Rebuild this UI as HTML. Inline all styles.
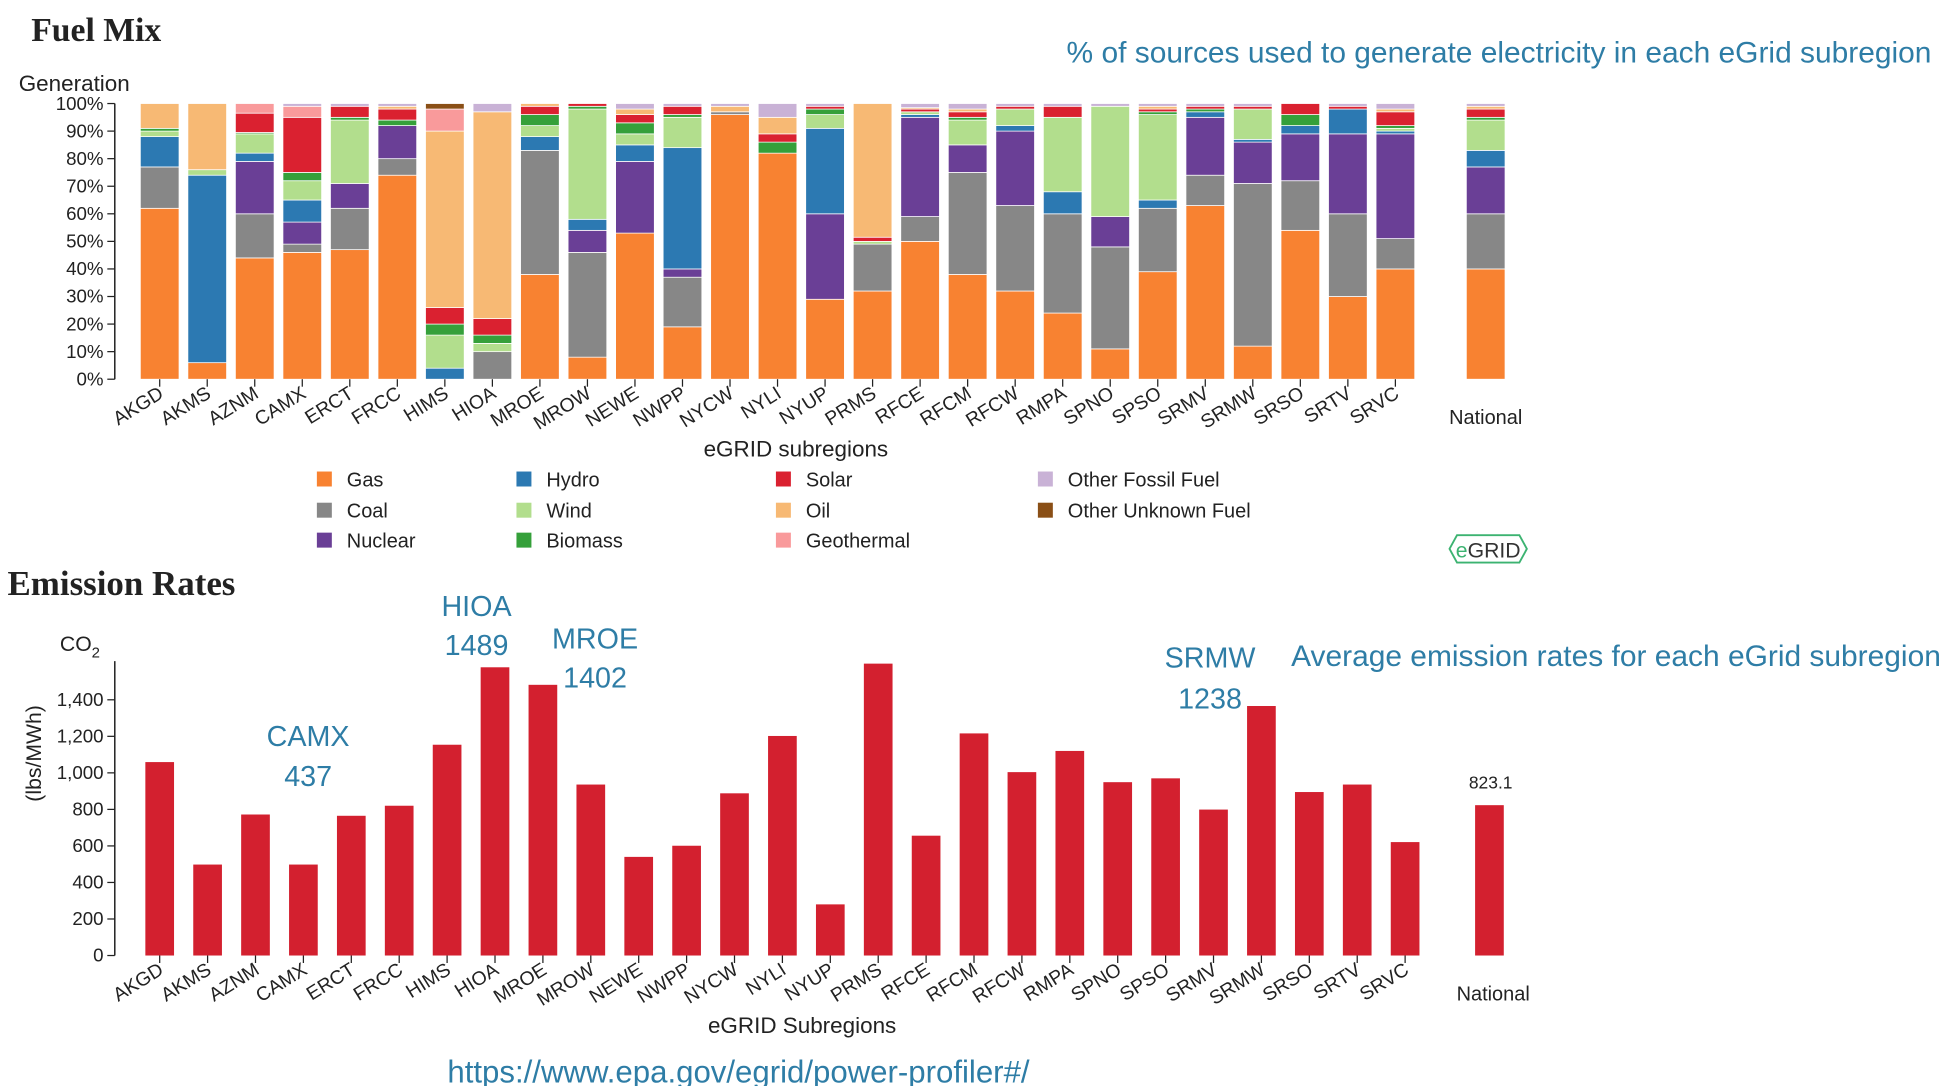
<!DOCTYPE html>
<html><head><meta charset="utf-8"><style>
html,body{margin:0;padding:0;background:#fff;}
svg{display:block;font-family:"Liberation Sans",sans-serif;}
</style></head><body>
<svg id="c" width="1956" height="1086" viewBox="0 0 1568 870.6">
<text x="25" y="33" font-family="Liberation Serif,serif" font-weight="bold" font-size="27" fill="#222">Fuel Mix</text>
<text x="855" y="50" font-size="24" fill="#2e7da6">% of sources used to generate electricity in each eGrid subregion</text>
<text x="15" y="73" font-size="18" fill="#222">Generation</text>
<text x="6" y="477" font-family="Liberation Serif,serif" font-weight="bold" font-size="28" fill="#222">Emission Rates</text>
<text x="1035" y="534" font-size="24" fill="#2e7da6">Average emission rates for each eGrid subregion</text>
<text x="48" y="522" font-size="17" fill="#222">CO<tspan font-size="12" dy="5">2</tspan></text>
<text transform="translate(33,604) rotate(-90)" text-anchor="middle" font-size="17" fill="#222">(lbs/MWh)</text>
<g font-size="23" fill="#2e7da6" text-anchor="middle">
<text x="382" y="494">HIOA</text><text x="382" y="525">1489</text>
<text x="477" y="520">MROE</text><text x="477" y="551">1402</text>
<text x="247" y="598">CAMX</text><text x="247" y="630">437</text>
<text x="970" y="535">SRMW</text><text x="970" y="568">1238</text>
</g>
<text x="592" y="868" text-anchor="middle" font-size="25" fill="#2e7da6">https://www.epa.gov/egrid/power-profiler#/</text>
<g>
<polygon points="1162,440 1168,429 1218,429 1224,440 1218,451 1168,451" fill="#fff" stroke="#3cb371" stroke-width="1.5"/>
<text x="1193" y="447" text-anchor="middle" font-size="17" fill="#333"><tspan fill="#3cb371">e</tspan>GRID</text>
</g>
<text x="1195" y="632" text-anchor="middle" font-size="14" fill="#222">823.1</text>
<g id="topc"></g><g id="botc"></g><g id="legc"></g>
</svg>
<script>
const regions=["AKGD","AKMS","AZNM","CAMX","ERCT","FRCC","HIMS","HIOA","MROE","MROW","NEWE","NWPP","NYCW","NYLI","NYUP","PRMS","RFCE","RFCM","RFCW","RMPA","SPNO","SPSO","SRMV","SRMW","SRSO","SRTV","SRVC","National"];
const fuels=["Gas","Coal","Nuclear","Hydro","Wind","Biomass","Solar","Oil","Geothermal","Other Fossil Fuel","Other Unknown Fuel"];
const fuelColors=["#f88231","#878787","#6a3f96","#2c79b2","#b2de8d","#35a03a","#da2130","#f7b974","#f99a9b","#c9b2d6","#8a4f16"];
const gas=[62,6,44,46,47,74,0,0,38,8,53,19,96,82,29,32,50,38,32,24,11,39,63,12,54,30,40,40];
const coal=[15,0,16,3,15,6,0,10,45,38,0,18,1,0,0,17,9,37,31,36,37,23,11,59,18,30,11,20];
const nuclear=[0,0,19,8,9,12,0,0,0,8,26,3,0,0,31,0,36,10,27,0,11,0,21,15,17,29,38,17];
const hydro=[11,68,3,8,0,0,4,0,5,4,6,44,0,0,31,0,1,0,2,8,0,3,2,1,3,9,1,6];
const wind=[2,2,7,7,23,0,12,3,4,40,4,11,0,0,5,1,1,9,6,27,40,31,0,11,0,0,1,11];
const biomass=[1,0,0.5,3,1,2,4,3,4,1,4,1,0,4,2,0,0,1,0,0,0,1,1,0,4,0,1,1];
const solar=[0,0,7,20,4,4,6,6,3,1,3,3,0,3,1,1.5,1,2,1,4,0,1,1,1,4,1,5,3];
const oil=[9,24,0,0,0,1,64,75,1,0,2,0,2,6,0,48.5,0.5,1,0,0,0,1,0,0,0,0,1,1];
const geothermal=[0,0,3.5,4,0,0,8,0,0,0,0,0,0,0,0,0,0,0,0,0,0,0,0,0,0,0,0,0];
const otherFossil=[0,0,0,1,1,1,0,3,0,0,2,1,1,5,1,0,1.5,2,1,1,1,1,1,1,0,1,2,1];
const otherUnknown=[0,0,0,0,0,0,2,0,0,0,0,0,0,0,0,0,0,0,0,0,0,0,0,0,0,0,0,0];
const emissions=[1059,498,772,498,765,820,1154,1578,1482,936,540,601,888,1202,280,1598,656,1216,1004,1120,949,970,799,1366,895,936,621,823.1];
const pctTicks=[0,10,20,30,40,50,60,70,80,90,100];
const emTicks=[0,200,400,600,800,1000,1200,1400];
const emTickLabels=["0","200","400","600","800","1,000","1,200","1,400"];

const NS="http://www.w3.org/2000/svg";
function mk(p,t,a){const e=document.createElementNS(NS,t);for(const k in a)e.setAttribute(k,a[k]);p.appendChild(e);return e;}
const series=[gas,coal,nuclear,hydro,wind,biomass,solar,oil,geothermal,otherFossil,otherUnknown];
function xTop(i){return i<27?128+i*38.1:1191;}
function yTop(v){return 304-v*2.21;}
function xBot(i){return i<27?128+i*38.4:1194;}
function yBot(v){return 766-v*0.14643;}
const gTop=document.getElementById('topc');
const gBot=document.getElementById('botc');
const gLeg=document.getElementById('legc');
regions.forEach((r,i)=>{
  let acc=0;
  series.forEach((s,k)=>{
    const v=s[i]; if(!v) return;
    const rc=mk(gTop,'rect',{x:xTop(i)-15.5,y:yTop(acc+v),width:31,height:yTop(acc)-yTop(acc+v),fill:fuelColors[k],stroke:'#fff','stroke-width':0.6});
    
    
    acc+=v;
  });
  const rest=100-acc;
  if(rest>0.2){const rc=mk(gTop,'rect',{x:xTop(i)-15.5,y:yTop(100),width:31,height:yTop(acc)-yTop(100),fill:fuelColors[7]});
    
    }
  if(i<27){mk(gTop,'line',{x1:xTop(i),x2:xTop(i),y1:304,y2:310,stroke:'#222'});
    const t=mk(gTop,'text',{transform:`translate(${xTop(i)+4},${318}) rotate(-32)`,'text-anchor':'end','font-size':15.5,fill:'#222'});t.textContent=r;
    
    
  } else {const t=mk(gTop,'text',{x:1191,y:340,'text-anchor':'middle','font-size':16,fill:'#222'});t.textContent=r;
    
    }
  const b=mk(gBot,'rect',{x:xBot(i)-11.5,y:yBot(emissions[i]),width:23,height:766-yBot(emissions[i]),fill:'#d3202f'});
  
  
  if(i<27){mk(gBot,'line',{x1:xBot(i),x2:xBot(i),y1:766,y2:772,stroke:'#222'});
    const t=mk(gBot,'text',{transform:`translate(${xBot(i)+4},${780}) rotate(-32)`,'text-anchor':'end','font-size':15.5,fill:'#222'});t.textContent=r;
    
    
  } else {const t=mk(gBot,'text',{x:1197,y:802,'text-anchor':'middle','font-size':16,fill:'#222'});t.textContent=r;
    
    }
});
const ax1=mk(gTop,'line',{x1:92,x2:92,y1:83,y2:304,stroke:'#222','stroke-width':1.2});


pctTicks.forEach(v=>{mk(gTop,'line',{x1:86,x2:92,y1:yTop(v),y2:yTop(v),stroke:'#222'});
  const t=mk(gTop,'text',{x:83,y:yTop(v)+5,'text-anchor':'end','font-size':15,fill:'#222'});t.textContent=v+'%';
  
  });
const t1=mk(gTop,'text',{x:638,y:366,'text-anchor':'middle','font-size':18,fill:'#222'});t1.textContent='eGRID subregions';


const ax2=mk(gBot,'line',{x1:92,x2:92,y1:530,y2:766,stroke:'#222','stroke-width':1.2});


emTicks.forEach((v,k)=>{mk(gBot,'line',{x1:86,x2:92,y1:yBot(v),y2:yBot(v),stroke:'#222'});
  const t=mk(gBot,'text',{x:83,y:yBot(v)+5,'text-anchor':'end','font-size':15,fill:'#222'});t.textContent=emTickLabels[k];
  
  });
const t2=mk(gBot,'text',{x:643,y:828,'text-anchor':'middle','font-size':18,fill:'#222'});t2.textContent='eGRID Subregions';


const legOrder=[[0,1,2],[3,4,5],[6,7,8],[9,10]];
const colX=[254,414,622,832];const rowY=[384,409,433];
legOrder.forEach((col,c)=>col.forEach((k,r)=>{
  const g=mk(gLeg,'g',{});
  
  
  mk(g,'rect',{x:colX[c],y:rowY[r]-6,width:12,height:12,fill:fuelColors[k]});
  const t=mk(g,'text',{x:colX[c]+24,y:rowY[r]+6,'font-size':16,fill:'#222'});t.textContent=fuels[k];
}));
</script>
</body></html>
